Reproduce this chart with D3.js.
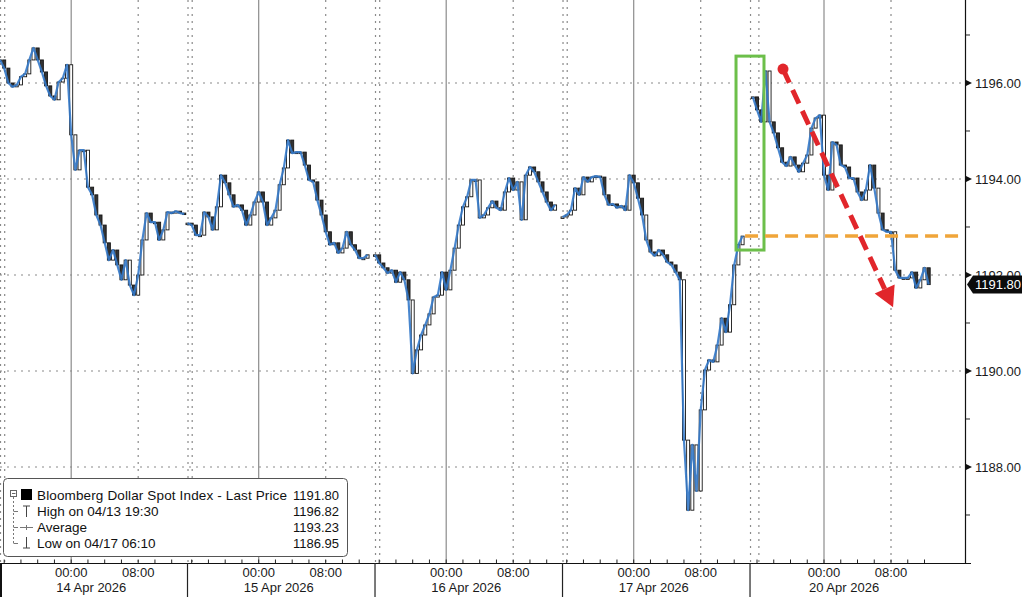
<!DOCTYPE html>
<html><head><meta charset="utf-8">
<script src="https://cdn.jsdelivr.net/npm/d3@7"></script>
<style>
html,body{margin:0;padding:0;background:#fff;}
svg{display:block;font-family:"Liberation Sans",Arial,sans-serif;}
</style></head><body>
<svg id="c" width="1024" height="597"></svg>
<script>
// ---------------- data ----------------
const sessionDates = ["14 Apr 2026","15 Apr 2026","16 Apr 2026","17 Apr 2026","20 Apr 2026"];
const sessionOpenClock = [15.5, 15.5, 15.5, 15.5, 15 + 10/60];   // clock hour of session open (previous day)
const sessionFirstOffset = [0, 0, 0, 0, 20/60];                 // hours from open to first bar
const stepHours = 0.5;                                           // 30-minute bars
const sessionGapMark = [0.5, 0.5, 0.5, 0.5, 1.0];

const s1 = [1196.48,1196.31,1196.00,1195.92,1195.96,1196.13,1196.19,1196.48,1196.73,1196.48,1196.23,1195.94,1195.73,1195.65,1196.02,1196.10,1196.38,1194.92,1194.19,1194.60,1194.60,1193.83,1193.67,1193.25,1193.04,1192.67,1192.31,1192.52,1192.21,1191.90,1192.31,1191.79,1191.58,1192.00,1192.73,1193.29,1193.10,1193.10,1192.73,1192.94,1193.31,1193.29,1193.33,1193.29,1193.27];
const s2 = [1193.08,1193.04,1192.83,1192.83,1193.31,1193.21,1192.94,1193.42,1194.08,1193.92,1193.67,1193.42,1193.46,1193.35,1193.04,1193.25,1193.52,1193.73,1193.52,1193.04,1193.19,1193.35,1193.88,1194.23,1194.81,1194.54,1194.56,1194.56,1194.29,1193.98,1193.94,1193.56,1193.25,1192.90,1192.63,1192.67,1192.46,1192.56,1192.90,1192.63,1192.52,1192.35,1192.35,1192.42];
const s3 = [1192.42,1192.25,1192.15,1192.04,1192.10,1191.85,1192.06,1191.90,1191.48,1189.95,1190.44,1190.75,1190.96,1191.19,1191.54,1191.58,1192.06,1191.69,1192.10,1192.56,1193.04,1193.42,1193.63,1193.98,1193.98,1193.19,1193.25,1193.40,1193.54,1193.40,1193.35,1193.73,1194.02,1193.77,1193.94,1193.15,1194.08,1194.25,1194.15,1193.94,1193.73,1193.52,1193.35,1193.46];
const s4 = [1193.21,1193.25,1193.35,1193.81,1193.67,1194.04,1193.94,1194.04,1194.06,1194.04,1193.67,1193.46,1193.48,1193.40,1193.44,1193.35,1194.08,1193.92,1193.60,1193.25,1192.73,1192.48,1192.40,1192.52,1192.42,1192.27,1192.21,1192.06,1191.90,1188.56,1187.10,1188.46,1187.50,1189.19,1190.02,1190.23,1190.19,1190.54,1191.10,1190.81,1191.38,1192.21,1192.63,1192.81];
const s5 = [1195.71,1195.44,1195.19,1196.25,1195.19,1194.96,1194.65,1194.35,1194.27,1194.46,1194.29,1194.15,1194.33,1194.50,1195.06,1195.27,1195.33,1194.08,1193.77,1194.77,1194.71,1194.29,1194.25,1194.02,1194.02,1193.73,1193.56,1193.77,1194.29,1193.81,1193.29,1192.94,1192.90,1192.90,1192.10,1191.94,1191.94,1191.94,1192.06,1191.73,1191.90,1192.15,1191.80];
const sessions = [s1, s2, s3, s4, s5];

const yTicks = [1188, 1190, 1192, 1194, 1196];
const yMinorTicks = [1187, 1189, 1191, 1193, 1195, 1197];
const lastPrice = 1191.80;

const legendLabels = ["Bloomberg Dollar Spot Index - Last Price", "High on 04/13 19:30", "Average", "Low on 04/17 06:10"];
const legendValues = ["1191.80", "1196.82", "1193.23", "1186.95"];

// annotations (chart-hours / index values)
const greenBoxHours = [87.88, 91.22];
const greenBoxValues = [1192.52, 1196.56];
const orangeHours = [88.96, 114.63];
const orangeLevel = 1192.81;
const arrowHours = [93.49, 106.63];
const arrowValues = [1196.29, 1191.33];

// ---------------- layout ----------------
const SESSION_H = 22.388;
const plotR = 965, plotB = 563;
const svg = d3.select("#c");
const x = d3.scaleLinear().domain([0, 115.22]).range([0, plotR]);
const y = d3.scaleLinear().domain([1186, 1197.729]).range([plotB, 0]);
const hourOf = (k, i) => k * SESSION_H + sessionFirstOffset[k] + i * stepHours;

// horizontal grid
svg.append("g").selectAll("line").data(yTicks).join("line")
  .attr("x1", 0).attr("x2", plotR).attr("y1", d => y(d)).attr("y2", d => y(d))
  .attr("stroke", "#8a8a8a").attr("stroke-width", 1.2).attr("stroke-dasharray", "2,5");

// vertical lines
const vg = svg.append("g");
sessions.forEach((arr, k) => {
  const mid = k * SESSION_H + (24 - sessionOpenClock[k]);
  vg.append("line").attr("x1", x(mid)).attr("x2", x(mid)).attr("y1", 0).attr("y2", plotB)
    .attr("stroke", "#8c8c8c").attr("stroke-width", 1.2);
  vg.append("line").attr("x1", x(mid + 8)).attr("x2", x(mid + 8)).attr("y1", 0).attr("y2", plotB)
    .attr("stroke", "#8a8a8a").attr("stroke-width", 1.2).attr("stroke-dasharray", "2,5");
  [k * SESSION_H, k * SESSION_H + sessionGapMark[k]].forEach(h => {
    vg.append("line").attr("x1", x(h) + 0.5).attr("x2", x(h) + 0.5).attr("y1", 0).attr("y2", plotB)
      .attr("stroke", "#8a8a8a").attr("stroke-width", 1.2).attr("stroke-dasharray", "2,5");
  });
});

// candles + line
const cg = svg.append("g");
const line = d3.line().x(d => x(d.h)).y(d => y(d.v));
sessions.forEach((arr, k) => {
  const pts = arr.map((v, i) => ({h: hourOf(k, i), v, o: i > 0 ? arr[i - 1] : v}));
  cg.append("g").selectAll("rect").data(pts).join("rect")
    .attr("x", d => x(d.h) - 1.5).attr("width", 3)
    .attr("y", d => y(Math.max(d.o, d.v)))
    .attr("height", d => Math.max(1.5, Math.abs(y(d.o) - y(d.v))))
    .attr("fill", d => (d.v < d.o && Math.abs(d.v - d.o) < 0.5) ? "#333" : "#ffffff")
    .attr("stroke", "#151515").attr("stroke-width", 0.9);
  cg.append("path").datum(pts).attr("d", line)
    .attr("fill", "none").attr("stroke", "#3479c9").attr("stroke-width", 2.2)
    .attr("stroke-opacity", 0.9).attr("stroke-linejoin", "round");
});

// right axis
const ax = svg.append("g");
ax.append("line").attr("x1", plotR + 0.5).attr("x2", plotR + 0.5).attr("y1", 0).attr("y2", plotB + 0.5)
  .attr("stroke", "#111").attr("stroke-width", 1.2);
ax.selectAll("path.maj").data(yTicks).join("path")
  .attr("d", d => `M${plotR + 1},${y(d) - 3}L${plotR + 7},${y(d)}L${plotR + 1},${y(d) + 3}Z`)
  .attr("fill", "#111");
ax.selectAll("line.min").data(yMinorTicks).join("line")
  .attr("x1", plotR + 1).attr("x2", plotR + 5).attr("y1", d => y(d)).attr("y2", d => y(d))
  .attr("stroke", "#222");
ax.selectAll("text").data(yTicks).join("text")
  .attr("x", plotR + 10).attr("y", d => y(d) + 4.7)
  .attr("font-size", 13).attr("fill", "#1a1a1a").text(d => d.toFixed(2));

// last price tag
const ty = y(lastPrice);
ax.append("path")
  .attr("d", `M${plotR + 2},${ty}L${plotR + 8},${ty - 9}L1022,${ty - 9}L1022,${ty + 9}L${plotR + 8},${ty + 9}Z`)
  .attr("fill", "#0c0c0c");
ax.append("text").attr("x", plotR + 10).attr("y", ty + 4.7).attr("font-size", 13)
  .attr("fill", "#fff").text(lastPrice.toFixed(2));

// bottom axis
const bx = svg.append("g");
bx.append("line").attr("x1", 0).attr("x2", plotR + 6).attr("y1", plotB + 0.5).attr("y2", plotB + 0.5)
  .attr("stroke", "#111").attr("stroke-width", 1.2);
bx.append("line").attr("x1", 1).attr("x2", 1).attr("y1", plotB).attr("y2", 597)
  .attr("stroke", "#111").attr("stroke-width", 2);
sessions.forEach((arr, k) => {
  const start = k * SESSION_H;
  if (k > 0) bx.append("line").attr("x1", x(start)).attr("x2", x(start)).attr("y1", plotB).attr("y2", 597)
    .attr("stroke", "#222").attr("stroke-width", 1.2);
  const firstEven = Math.ceil(sessionOpenClock[k] / 2) * 2 - sessionOpenClock[k];
  const ticks = d3.range(firstEven, SESSION_H, 2).map(t => start + t);
  bx.append("g").selectAll("line").data(ticks).join("line")
    .attr("x1", d => x(d)).attr("x2", d => x(d)).attr("y1", plotB - 3.5).attr("y2", plotB)
    .attr("stroke", "#222");
  const mid = start + (24 - sessionOpenClock[k]);
  bx.append("text").attr("x", x(mid)).attr("y", 576.5).attr("text-anchor", "middle")
    .attr("font-size", 13).attr("fill", "#1a1a1a").text("00:00");
  bx.append("text").attr("x", x(mid + 8)).attr("y", 576.5).attr("text-anchor", "middle")
    .attr("font-size", 13).attr("fill", "#1a1a1a").text("08:00");
  bx.append("text").attr("x", x(mid) - 15).attr("y", 592).attr("text-anchor", "start")
    .attr("font-size", 13).attr("fill", "#1a1a1a").text(sessionDates[k]);
});

// annotations
const an = svg.append("g");
an.append("rect")
  .attr("x", x(greenBoxHours[0])).attr("y", y(greenBoxValues[1]))
  .attr("width", x(greenBoxHours[1]) - x(greenBoxHours[0]))
  .attr("height", y(greenBoxValues[0]) - y(greenBoxValues[1]))
  .attr("fill", "none").attr("stroke", "#6cbf4a").attr("stroke-width", 3);
an.append("line")
  .attr("x1", x(orangeHours[0])).attr("x2", x(orangeHours[1]))
  .attr("y1", y(orangeLevel)).attr("y2", y(orangeLevel))
  .attr("stroke", "#f0a53a").attr("stroke-width", 3.5).attr("stroke-dasharray", "13,7");
{
  const x0 = x(arrowHours[0]), y0 = y(arrowValues[0]), x1 = x(arrowHours[1]), y1 = y(arrowValues[1]);
  const dx = x1 - x0, dy = y1 - y0, L = Math.hypot(dx, dy), ux = dx / L, uy = dy / L;
  const hl = 20, hw = 11;
  const bxp = x1 - ux * hl, byp = y1 - uy * hl;
  an.append("line").attr("x1", x0).attr("y1", y0).attr("x2", bxp).attr("y2", byp)
    .attr("stroke", "#e1262b").attr("stroke-width", 5).attr("stroke-dasharray", "15,8");
  an.append("circle").attr("cx", x0).attr("cy", y0).attr("r", 5.5).attr("fill", "#e1262b");
  an.append("path")
    .attr("d", `M${x1},${y1}L${bxp - uy * hw},${byp + ux * hw}L${bxp + uy * hw},${byp - ux * hw}Z`)
    .attr("fill", "#e1262b");
}

// legend
const lg = svg.append("g");
lg.append("rect").attr("x", 3.5).attr("y", 478.5).attr("width", 344).attr("height", 78).attr("rx", 4)
  .attr("fill", "#fff").attr("stroke", "#555").attr("stroke-width", 1);
const rowY = [499.5, 516, 532, 548];
lg.append("line").attr("x1", 13.5).attr("x2", 13.5).attr("y1", 497).attr("y2", 545)
  .attr("stroke", "#777").attr("stroke-dasharray", "2,2");
[1, 2, 3].forEach(r => lg.append("line").attr("x1", 13.5).attr("x2", 18).attr("y1", rowY[r] - 4.5).attr("y2", rowY[r] - 4.5).attr("stroke", "#777"));
lg.append("rect").attr("x", 10.5).attr("y", 490.5).attr("width", 6).attr("height", 6).attr("fill", "#fff").attr("stroke", "#666");
lg.append("line").attr("x1", 12).attr("x2", 15.5).attr("y1", 493.5).attr("y2", 493.5).attr("stroke", "#666");
lg.append("rect").attr("x", 21).attr("y", 489).attr("width", 11).attr("height", 11).attr("fill", "#000");
// high glyph
lg.append("path").attr("d", `M23,${rowY[1] - 10}H30M26.5,${rowY[1] - 10}V${rowY[1] + 1}`).attr("stroke", "#444").attr("fill", "none");
// average glyph
lg.append("path").attr("d", `M20,${rowY[2] - 4.5}H33M26.5,${rowY[2] - 7}V${rowY[2] - 2}`).attr("stroke", "#777").attr("fill", "none");
// low glyph
lg.append("path").attr("d", `M26.5,${rowY[3] - 11}V${rowY[3]}M23,${rowY[3]}H30`).attr("stroke", "#444").attr("fill", "none");
lg.selectAll("text.l").data(legendLabels).join("text")
  .attr("x", 37).attr("y", (d, i) => rowY[i]).attr("font-size", 13.5).attr("fill", "#111")
  .attr("textLength", (d, i) => i === 0 ? 250 : null).text(d => d);
lg.selectAll("text.v").data(legendValues).join("text")
  .attr("x", 339).attr("y", (d, i) => rowY[i]).attr("text-anchor", "end").attr("font-size", 13)
  .attr("fill", "#111").text(d => d);
</script>
</body></html>
